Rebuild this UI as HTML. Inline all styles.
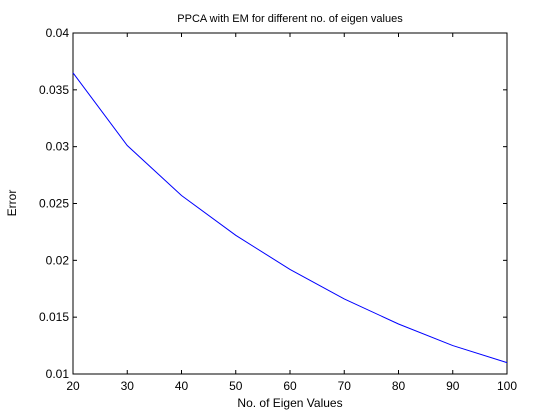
<!DOCTYPE html>
<html><head><meta charset="utf-8"><style>
body{margin:0;background:#fff;}
svg{display:block;font-family:"Liberation Sans",sans-serif;}
</style></head><body>
<svg id="chart" width="560" height="420">
<rect x="0" y="0" width="560" height="420" fill="#fff"/>
<rect x="73" y="33" width="434" height="341" fill="#fff" stroke="#000" stroke-width="1"/>
<g id="axes"></g>
<text x="290" y="22" font-size="11" text-anchor="middle">PPCA with EM for different no. of eigen values</text>
<text x="290" y="407" font-size="12" text-anchor="middle">No. of Eigen Values</text>
<text x="0" y="0" font-size="12" text-anchor="middle" transform="translate(16,203) rotate(-90)">Error</text>
</svg>
<script>
const xVals=[20,30,40,50,60,70,80,90,100];
const yVals=[0.0365,0.0301,0.0257,0.0222,0.0192,0.0166,0.0144,0.0125,0.011];
const xTicks=[20,30,40,50,60,70,80,90,100];
const yTicks=[0.01,0.015,0.02,0.025,0.03,0.035,0.04];
const yTickLabels=["0.01","0.015","0.02","0.025","0.03","0.035","0.04"];
const L=73,R=507,T=33,B=374;
const sx=v=>L+(v-20)/80*(R-L);
const sy=v=>B-(v-0.01)/0.03*(B-T);
const g=document.getElementById('axes');
const NS='http://www.w3.org/2000/svg';
function mk(t,a){const e=document.createElementNS(NS,t);for(const k in a)e.setAttribute(k,a[k]);g.appendChild(e);return e;}
xTicks.forEach(v=>{const x=sx(v);
 const t1=mk('line',{x1:x,x2:x,y1:B,y2:B-4,stroke:'#000'});
 
 
 const t2=mk('line',{x1:x,x2:x,y1:T,y2:T+4,stroke:'#000'});
 
 
 const tx=mk('text',{x:x,y:B+16,'font-size':12,'text-anchor':'middle'});tx.textContent=v;
 
 
});
yTicks.forEach((v,i)=>{const y=sy(v);
 const t1=mk('line',{x1:L,x2:L+4,y1:y,y2:y,stroke:'#000'});
 
 
 const t2=mk('line',{x1:R,x2:R-4,y1:y,y2:y,stroke:'#000'});
 
 
 const tx=mk('text',{x:L-4,y:y+4,'font-size':12,'text-anchor':'end'});tx.textContent=yTickLabels[i];
 
 
});
const p=mk('polyline',{points:xVals.map((x,i)=>sx(x)+','+sy(yVals[i])).join(' '),fill:'none',stroke:'#0000ff','stroke-width':1});


</script>
</body></html>
